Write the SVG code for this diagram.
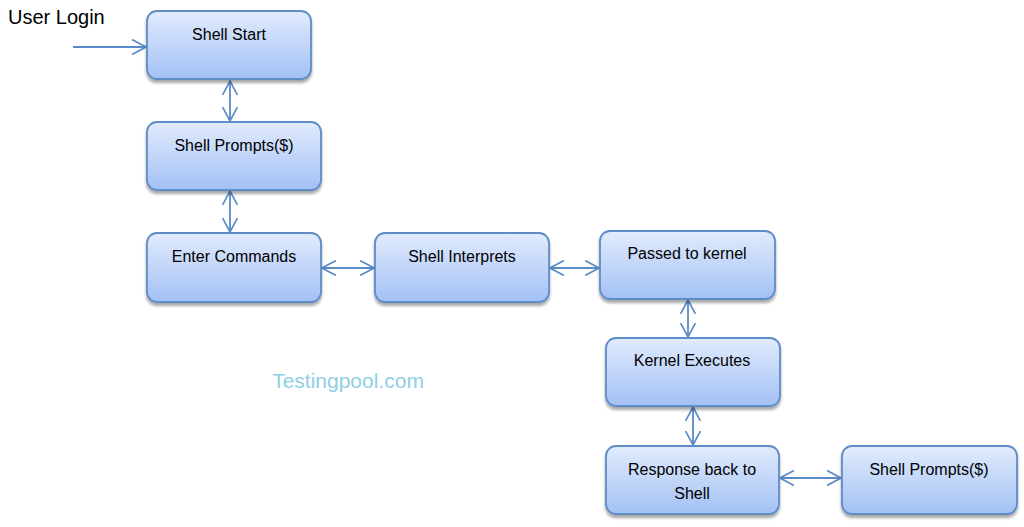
<svg xmlns="http://www.w3.org/2000/svg" width="1024" height="527" viewBox="0 0 1024 527">
<defs>
<linearGradient id="g" x1="0" y1="0" x2="0" y2="1">
<stop offset="0" stop-color="#e1ebfd"/>
<stop offset="1" stop-color="#a3c1f5"/>
</linearGradient>
<filter id="sh" x="-10%" y="-10%" width="120%" height="130%">
<feGaussianBlur in="SourceAlpha" stdDeviation="1.8"/>
<feOffset dx="0" dy="3" result="b"/>
<feComponentTransfer><feFuncA type="linear" slope="0.35"/></feComponentTransfer>
<feMerge><feMergeNode/><feMergeNode in="SourceGraphic"/></feMerge>
</filter>
<marker id="ah" viewBox="0 0 15 16" refX="14" refY="8" markerWidth="15" markerHeight="16" markerUnits="userSpaceOnUse" orient="auto-start-reverse">
<path d="M0,0.5 L14,8 L0,15.5" fill="none" stroke="#5b8bc6" stroke-width="1.7"/>
</marker>
</defs>
<style>
.box{fill:url(#g);stroke:#5f8dc5;stroke-width:1.8;filter:url(#sh)}
.t{font-family:"Liberation Sans",Arial,sans-serif;font-size:16px;fill:#000;text-anchor:middle}
.c{stroke:#5b8bc6;stroke-width:1.8;fill:none}
.d{marker-start:url(#ah);marker-end:url(#ah)}
.s{marker-end:url(#ah)}
</style>
<rect width="1024" height="527" fill="#fff"/>
<text x="8" y="24" font-family="'Liberation Sans',Arial,sans-serif" font-size="20" fill="#000">User Login</text>
<text x="348" y="388" font-family="'Liberation Sans',Arial,sans-serif" font-size="21" fill="#8fcfe6" text-anchor="middle">Testingpool.com</text>
<g id="connectors">
<line class="c s" x1="73" y1="47" x2="146" y2="47"/>
<line class="c d" x1="230" y1="81" x2="230" y2="121"/>
<line class="c d" x1="230" y1="191" x2="230" y2="232"/>
<line class="c d" x1="322" y1="268" x2="374" y2="268"/>
<line class="c d" x1="550" y1="268" x2="599" y2="268"/>
<line class="c d" x1="688" y1="300" x2="688" y2="337"/>
<line class="c d" x1="693" y1="407" x2="693" y2="445"/>
<line class="c d" x1="780" y1="478" x2="841" y2="478"/>
</g>
<g id="n1"><rect class="box" x="147" y="11" width="164" height="68" rx="10"/><text class="t" x="229" y="40">Shell Start</text></g>
<g id="n2"><rect class="box" x="147" y="122" width="174" height="68" rx="10"/><text class="t" x="234" y="151">Shell Prompts($)</text></g>
<g id="n3"><rect class="box" x="147" y="233" width="174" height="69" rx="10"/><text class="t" x="234" y="262">Enter Commands</text></g>
<g id="n4"><rect class="box" x="375" y="233" width="174" height="69" rx="10"/><text class="t" x="462" y="262">Shell Interprets</text></g>
<g id="n5"><rect class="box" x="600" y="231" width="175" height="68" rx="10"/><text class="t" x="687" y="259">Passed to kernel</text></g>
<g id="n6"><rect class="box" x="606" y="338" width="174" height="68" rx="10"/><text class="t" x="692" y="366">Kernel Executes</text></g>
<g id="n7"><rect class="box" x="606" y="446" width="173" height="68" rx="10"/><text class="t" x="692" y="475">Response back to</text><text class="t" x="692" y="499">Shell</text></g>
<g id="n8"><rect class="box" x="842" y="446" width="175" height="68" rx="10"/><text class="t" x="929" y="475">Shell Prompts($)</text></g>
</svg>
